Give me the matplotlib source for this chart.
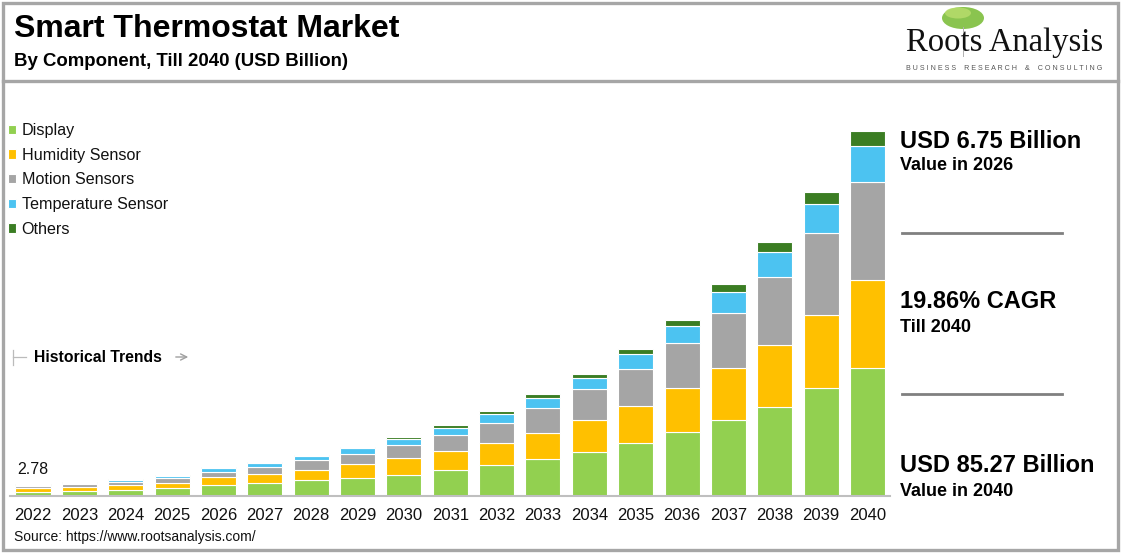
import matplotlib
matplotlib.use("Agg")
import matplotlib.pyplot as plt
from matplotlib.patches import Rectangle, Ellipse, FancyArrowPatch
from matplotlib.lines import Line2D
import numpy as np

# ---------------- data ----------------
years = [str(y) for y in range(2022, 2041)]
series_names = ["Display", "Humidity Sensor", "Motion Sensors", "Temperature Sensor", "Others"]
display = [1.02, 1.20, 1.50, 1.85, 2.50, 2.95, 3.75, 4.28, 4.91, 6.07, 7.32, 8.72, 10.35, 12.46, 14.88, 17.68, 20.86, 25.16, 29.83]
humidity = [0.74, 0.86, 1.05, 1.30, 1.85, 2.15, 2.40, 3.11, 3.89, 4.36, 5.14, 6.07, 7.40, 8.49, 10.28, 12.15, 14.48, 17.05, 20.56]
motion = [0.58, 0.66, 0.78, 0.95, 1.30, 1.75, 2.15, 2.41, 3.11, 3.89, 4.67, 5.84, 7.17, 8.80, 10.51, 12.85, 15.75, 19.16, 23.04]
temperature = [0.30, 0.34, 0.45, 0.55, 0.80, 0.80, 0.95, 1.32, 1.40, 1.48, 2.02, 2.18, 2.57, 3.35, 3.97, 4.91, 5.84, 6.92, 8.41]
others = [0.14, 0.16, 0.19, 0.25, 0.30, 0.29, 0.40, 0.33, 0.47, 0.78, 0.70, 1.01, 1.01, 1.25, 1.48, 1.95, 2.34, 2.73, 3.43]
colors = ["#92D050", "#FFC000", "#A5A5A5", "#4CC3F1", "#3B7D23"]

title = "Smart Thermostat Market"
subtitle = "By Component, Till 2040 (USD Billion)"
source = "Source: https://www.rootsanalysis.com/"
kpis = [("USD 6.75 Billion", "Value in 2026"),
        ("19.86% CAGR", "Till 2040"),
        ("USD 85.27 Billion", "Value in 2040")]

# ---------------- figure ----------------
W, H = 1123, 553
fig = plt.figure(figsize=(W / 100, H / 100), dpi=100)
plt.rcParams['font.family'] = ['Liberation Sans', 'DejaVu Sans']

def fx(x):
    return x / W

def fy(y):
    return 1 - y / H

def ft(x, y, s, **kw):
    kw.setdefault("va", "center")
    kw.setdefault("ha", "left")
    return fig.text(fx(x), fy(y), s, **kw)

# axes: x from px 10 to 890, y baseline 496 up to 120
ax_left, ax_right, ax_bottom, ax_top = 10, 890, 496, 120
ax = fig.add_axes([fx(ax_left), fy(ax_bottom), (ax_right - ax_left) / W, (ax_bottom - ax_top) / H])
step = (867.5 - 33) / 18
ax.set_xlim(-(33 - ax_left) / step, 18 + (ax_right - 867.5) / step)
ax.set_ylim(0, (ax_bottom - ax_top) * 85.27 / 365)

x = np.arange(len(years))
bottom = np.zeros(len(years))
handles = []
for name, vals, c in zip(series_names, [display, humidity, motion, temperature, others], colors):
    b = ax.bar(x, vals, width=0.755, bottom=bottom, color=c, edgecolor="white", linewidth=0.8, label=name)
    handles.append(b)
    bottom = bottom + np.array(vals)

ax.annotate(f"{bottom[0]:.2f}", (x[0], bottom[0]), xytext=(0, 7), textcoords="offset points",
            ha="center", va="baseline", fontsize=11.5, color="#111111")

for s in ["top", "right", "left"]:
    ax.spines[s].set_visible(False)
ax.spines["bottom"].set_color("#BFBFBF")
ax.spines["bottom"].set_linewidth(1.5)
ax.set_yticks([])
ax.set_xticks(x)
ax.set_xticklabels(years, fontsize=12, color="#111111")
ax.tick_params(axis="x", length=0, pad=9)
ax.patch.set_alpha(0)

leg = fig.legend(handles=handles, labels=series_names, loc="upper left",
                 bbox_to_anchor=(fx(8), fy(123)), frameon=False, fontsize=11.6,
                 handlelength=0.5, handleheight=0.5, handletextpad=0.35,
                 labelspacing=0.6, borderaxespad=0, borderpad=0)
for t in leg.get_texts():
    t.set_color("#111111")

# ---------------- header ----------------
ft(14, 29, title, fontsize=23, fontweight="bold", color="#000000")
ft(14, 62, subtitle, fontsize=13.4, fontweight="bold", color="#000000")

# logo
fig.patches.append(Ellipse((fx(963), fy(18)), 42 / W, 22 / H, transform=fig.transFigure,
                           facecolor="#7DBE3C", edgecolor="none", alpha=0.9))
fig.patches.append(Ellipse((fx(958), fy(13)), 26 / W, 11 / H, transform=fig.transFigure,
                           facecolor="#B5DB6A", edgecolor="none", alpha=0.9))
fig.lines.append(Line2D([fx(963), fx(963)], [fy(27), fy(56)], transform=fig.transFigure,
                        color="#B0B0B0", linewidth=0.7))
ft(1005, 43, "Roots Analysis", fontsize=23.5, family=["Liberation Serif"], color="#111111", ha="center")
ft(1004, 68, "B U S I N E S S    R E S E A R C H    &    C O N S U L T I N G",
   fontsize=5.1, color="#555555", ha="center")

# ---------------- right KPIs ----------------
kpi_y = [(141, 166), (302, 328), (465, 491)]
for (big, small), (y1, y2) in zip(kpis, kpi_y):
    ft(900, y1, big, fontsize=17, fontweight="bold", color="#000000")
    ft(900, y2, small, fontsize=13, fontweight="bold", color="#000000")
for yy in [233, 394]:
    fig.lines.append(Line2D([fx(902), fx(1062)], [fy(yy), fy(yy)], transform=fig.transFigure,
                            color="#808080", linewidth=2))

# ---------------- historical trends ----------------
fig.lines.append(Line2D([fx(13), fx(13)], [fy(350), fy(365)], transform=fig.transFigure,
                        color="#BBBBBB", linewidth=0.9))
fig.lines.append(Line2D([fx(13), fx(26)], [fy(357), fy(357)], transform=fig.transFigure,
                        color="#BBBBBB", linewidth=0.9))
ft(34, 357, "Historical Trends", fontsize=11.3, fontweight="bold", color="#000000")
fig.patches.append(FancyArrowPatch((fx(173), fy(357)), (fx(191), fy(357)),
                   transform=fig.transFigure, arrowstyle="->", mutation_scale=11,
                   color="#A0A0A0", linewidth=1.0))

# ---------------- source ----------------
ft(14, 537, source, fontsize=10, color="#111111")

# ---------------- frame ----------------
fig.patches.append(Rectangle((fx(3), fy(550)), (1118 - 3) / W, (550 - 3) / H, transform=fig.transFigure,
                             fill=False, edgecolor="#A6A6A6", linewidth=2.4))
fig.lines.append(Line2D([fx(3), fx(1118)], [fy(81), fy(81)], transform=fig.transFigure,
                        color="#A6A6A6", linewidth=2.4))

fig.savefig("out.png", dpi=100, facecolor="white")
